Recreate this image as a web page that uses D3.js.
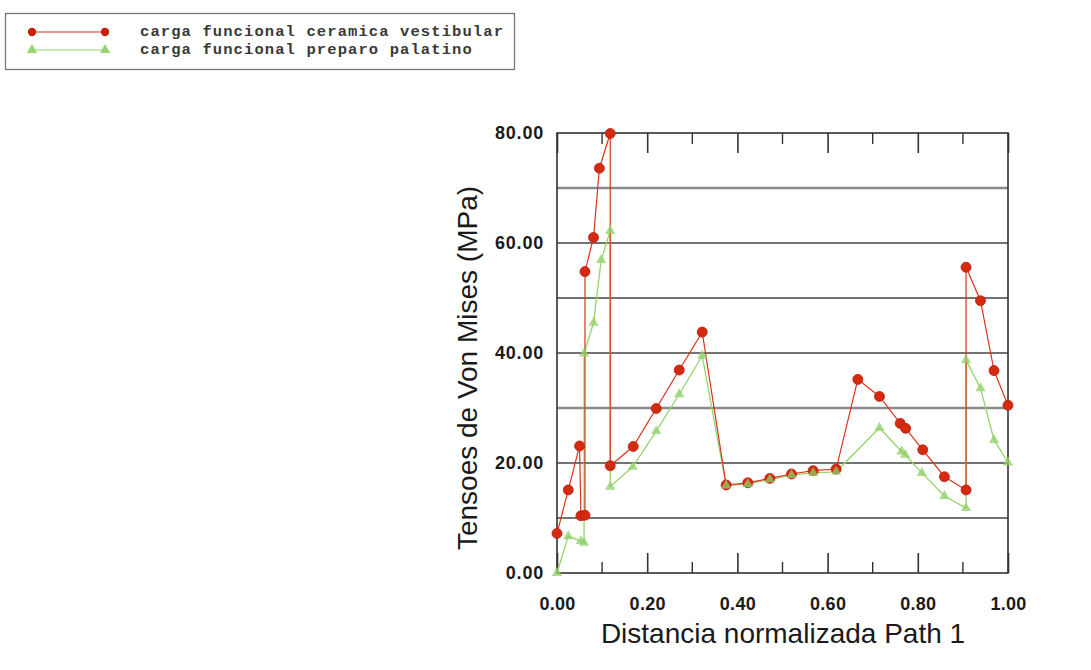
<!DOCTYPE html>
<html>
<head>
<meta charset="utf-8">
<script src="https://cdn.jsdelivr.net/npm/d3@7"></script>
<style>
  body { margin: 0; background: #fff; }
  text { font-family: "Liberation Sans", Arial, sans-serif; fill: #1a1a1a; }
  .legend text { font-family: "Liberation Mono", "Courier New", monospace; fill: #3a3a3a; }
</style>
</head>
<body>
<div id="chart"></div>
<script>
// series labels
const seriesNames = ['carga funcional ceramica vestibular', 'carga funcional preparo palatino'];

// red series (ceramica vestibular)
const redX = [0, 0.025, 0.05, 0.053, 0.062, 0.062, 0.081, 0.094, 0.118, 0.118, 0.169, 0.22, 0.271, 0.322,
              0.375, 0.423, 0.472, 0.52, 0.568, 0.619, 0.667, 0.715, 0.761, 0.773, 0.811, 0.859, 0.907,
              0.907, 0.939, 0.969, 1.0];
const redY = [7.2, 15.1, 23.1, 10.4, 10.5, 54.8, 61.0, 73.6, 79.9, 19.5, 23.0, 29.9, 36.9, 43.8,
              16.0, 16.4, 17.2, 18.0, 18.6, 18.9, 35.2, 32.1, 27.2, 26.3, 22.4, 17.5, 15.1,
              55.6, 49.5, 36.8, 30.5];

// green series (preparo palatino)
const greenX = [0, 0.025, 0.053, 0.06, 0.06, 0.081, 0.098, 0.118, 0.118, 0.168, 0.22, 0.271, 0.322,
                0.375, 0.423, 0.472, 0.52, 0.568, 0.619, 0.715, 0.764, 0.772, 0.809, 0.859, 0.907,
                0.907, 0.939, 0.969, 1.0];
const greenY = [0, 6.7, 5.8, 5.5, 39.9, 45.5, 56.9, 62.2, 15.7, 19.3, 25.8, 32.5, 39.5,
                15.9, 16.2, 17.0, 17.8, 18.2, 18.4, 26.4, 22.1, 21.5, 18.2, 14.0, 11.8,
                38.7, 33.6, 24.2, 20.1];

const xTicks = [0, 0.2, 0.4, 0.6, 0.8, 1.0];
const xMinorTicks = [0.1, 0.3, 0.5, 0.7, 0.9];
const yTicks = [0, 20, 40, 60, 80];
const yGrid = [10, 20, 30, 40, 50, 60, 70];

const width = 1091, height = 670;
const margin = {top: 133, right: 83, bottom: 97, left: 557};

const svg = d3.select('#chart').append('svg')
  .attr('width', width).attr('height', height);

const x = d3.scaleLinear().domain([0, 1]).range([margin.left, width - margin.right]);
const y = d3.scaleLinear().domain([0, 80]).range([height - margin.bottom, margin.top]);

// gridlines
svg.append('g').selectAll('line')
  .data(yGrid).join('line')
  .attr('x1', x(0)).attr('x2', x(1))
  .attr('y1', d => y(d)).attr('y2', d => y(d))
  .attr('stroke', d => (d === 30 || d === 70) ? '#8a8a8a' : '#444')
  .attr('stroke-width', d => (d === 30 || d === 70) ? 2.4 : 1.6);

// frame
svg.append('rect')
  .attr('x', x(0)).attr('y', y(80))
  .attr('width', x(1) - x(0)).attr('height', y(0) - y(80))
  .attr('fill', 'none').attr('stroke', '#333').attr('stroke-width', 1.6);

// x axis (bottom, ticks inward)
const xAxis = d3.axisBottom(x).tickValues(xTicks).tickFormat(d3.format('.2f'))
  .tickSizeInner(-20).tickSizeOuter(0).tickPadding(24);
const gx = svg.append('g').attr('transform', `translate(0,${y(0)})`).call(xAxis);
gx.select('.domain').remove();
gx.selectAll('line').attr('stroke', '#333').attr('stroke-width', 1.6);
gx.selectAll('text').style('font-size', '18px').style('font-weight', 'bold')
  .style('letter-spacing', '0.3px').attr('fill', '#222');

svg.append('g').selectAll('line').data(xMinorTicks).join('line')
  .attr('x1', d => x(d)).attr('x2', d => x(d))
  .attr('y1', y(0)).attr('y2', y(0) - 11)
  .attr('stroke', '#333').attr('stroke-width', 1.4);

// top ticks
const xTop = d3.axisTop(x).tickValues(xTicks).tickFormat('')
  .tickSizeInner(-20).tickSizeOuter(0);
const gt = svg.append('g').attr('transform', `translate(0,${y(80)})`).call(xTop);
gt.select('.domain').remove();
gt.selectAll('line').attr('stroke', '#333').attr('stroke-width', 1.6);
svg.append('g').selectAll('line').data(xMinorTicks).join('line')
  .attr('x1', d => x(d)).attr('x2', d => x(d))
  .attr('y1', y(80)).attr('y2', y(80) + 11)
  .attr('stroke', '#333').attr('stroke-width', 1.4);

// y axis
const yAxis = d3.axisLeft(y).tickValues(yTicks).tickFormat(d3.format('.2f'))
  .tickSize(0).tickPadding(13);
const gy = svg.append('g').attr('transform', `translate(${x(0)},0)`).call(yAxis);
gy.select('.domain').remove();
gy.selectAll('text').style('font-size', '18px').style('font-weight', 'bold')
  .style('letter-spacing', '0.8px').attr('fill', '#222');

// axis titles
svg.append('text')
  .attr('x', 783).attr('y', 643)
  .attr('text-anchor', 'middle')
  .style('font-size', '28px')
  .text('Distancia normalizada Path 1');

svg.append('text')
  .attr('transform', 'translate(477,368) rotate(-90)')
  .attr('text-anchor', 'middle')
  .style('font-size', '28px')
  .text('Tensoes de Von Mises (MPa)');

// series
const redData = redX.map((d, i) => ({x: d, y: redY[i]}));
const greenData = greenX.map((d, i) => ({x: d, y: greenY[i]}));
const line = d3.line().x(d => x(d.x)).y(d => y(d.y));

const redColor = '#d8341c', greenColor = '#96d46e';
const tri = d3.symbol().type(d3.symbolTriangle).size(46);

svg.append('path').datum(greenData).attr('d', line)
  .attr('fill', 'none').attr('stroke', greenColor).attr('stroke-width', 1.3);
svg.append('path').datum(redData).attr('d', line)
  .attr('fill', 'none').attr('stroke', redColor).attr('stroke-width', 1.2);

svg.append('g').selectAll('circle').data(redData).join('circle')
  .attr('cx', d => x(d.x)).attr('cy', d => y(d.y)).attr('r', 5)
  .attr('fill', '#d42a10').attr('stroke', '#b82010').attr('stroke-width', 0.8);

svg.append('g').selectAll('path').data(greenData).join('path')
  .attr('d', tri)
  .attr('transform', d => `translate(${x(d.x)},${y(d.y)})`)
  .attr('fill', '#8fd068').attr('fill-opacity', 0.75);

// legend
const legend = svg.append('g').attr('class', 'legend');
legend.append('rect')
  .attr('x', 5.5).attr('y', 13.5).attr('width', 509).attr('height', 56)
  .attr('fill', '#fff').attr('stroke', '#777').attr('stroke-width', 1.3);

const legItems = [
  {name: seriesNames[0], color: redColor, yPos: 32, shape: 'circle'},
  {name: seriesNames[1], color: greenColor, yPos: 50, shape: 'tri'}
];
legItems.forEach(item => {
  legend.append('line')
    .attr('x1', 32).attr('x2', 105).attr('y1', item.yPos).attr('y2', item.yPos)
    .attr('stroke', item.color).attr('stroke-width', 1.2);
  [32, 105].forEach(px => {
    if (item.shape === 'circle') {
      legend.append('circle').attr('cx', px).attr('cy', item.yPos).attr('r', 4.2)
        .attr('fill', '#c8200e');
    } else {
      legend.append('path').attr('d', tri).attr('transform', `translate(${px},${item.yPos})`)
        .attr('fill', greenColor);
    }
  });
  legend.append('text')
    .attr('x', 140).attr('y', item.yPos + 4)
    .style('font-size', '15.5px').style('letter-spacing', '1.1px')
    .style('font-weight', 'bold')
    .text(item.name);
});
</script>
</body>
</html>
